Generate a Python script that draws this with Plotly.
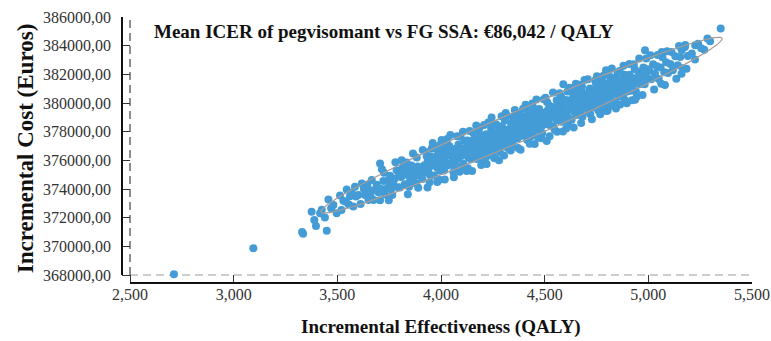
import numpy as np
import plotly.graph_objects as go

# ---------------- data ----------------
effectiveness_core = [
    2712, 3095, 3330, 3335, 3376, 3389, 3397, 3417, 3425, 3449, 3457, 3481, 3497, 3470, 3440,
    3513, 3529, 3545, 3561, 3577, 3585, 3520, 3555, 3590, 3540, 3570,
    3601, 3618, 3634, 3650, 3666, 3682, 3612, 3628, 3645, 3660, 3675, 3690, 3698, 3655,
    3706, 3706, 3722, 3738, 3754, 3770, 3786, 3712, 3730, 3745, 3760, 3778, 3792, 3725, 3765, 3750, 3798,
    3802, 3818, 3834, 3851, 3867, 3883, 3899, 3808, 3815, 3825, 3840, 3846, 3858, 3862, 3872, 3880, 3888, 3894, 3830, 3855,
    3915, 3931, 3947, 3963, 3979, 3995, 3905, 3910, 3920, 3925, 3936, 3940, 3945, 3952, 3958, 3966, 3970, 3975, 3984, 3988, 3992, 3998, 3928, 3955,
    4011, 4027, 4044, 4060, 4076, 4092, 4005, 4008, 4015, 4020, 4024, 4032, 4036, 4040, 4048, 4052, 4056, 4064, 4068, 4072, 4080, 4084, 4088, 4095, 4098, 4030,
    4108, 4124, 4104, 4112, 4116, 4120, 4128, 4132, 4136, 4140, 4144, 4148, 4152, 4156, 4160, 4164, 4168, 4172, 4176, 4180, 4184, 4188, 4192, 4196, 4199, 4138,
    4202, 4206, 4210, 4214, 4218, 4222, 4226, 4230, 4234, 4238, 4242, 4246, 4250, 4254, 4258, 4262, 4266, 4270, 4274, 4278, 4282, 4286, 4290, 4294, 4298, 4228, 4262,
    4302, 4306, 4310, 4314, 4318, 4322, 4326, 4330, 4334, 4338, 4342, 4346, 4350, 4354, 4358, 4362, 4366, 4370, 4374, 4378, 4382, 4386, 4390, 4394, 4398, 4320, 4372, 4345,
    4402, 4406, 4410, 4414, 4418, 4422, 4426, 4430, 4434, 4438, 4442, 4446, 4450, 4454, 4458, 4462, 4466, 4470, 4474, 4478, 4482, 4486, 4490, 4494, 4498, 4440, 4468, 4420,
    4510, 4590, 4502, 4506, 4514, 4518, 4522, 4526, 4530, 4534, 4538, 4542, 4546, 4550, 4554, 4558, 4562, 4566, 4570, 4574, 4578, 4582, 4586, 4594, 4598,
    4602, 4606, 4610, 4614, 4618, 4622, 4626, 4630, 4634, 4638, 4642, 4646, 4650, 4654, 4658, 4662, 4666, 4670, 4674, 4678, 4682, 4686, 4690, 4694, 4698, 4650,
    4702, 4706, 4710, 4714, 4718, 4722, 4726, 4730, 4734, 4738, 4742, 4746, 4750, 4754, 4758, 4762, 4766, 4770, 4774, 4778, 4782, 4786, 4790, 4794, 4798,
    4802, 4806, 4810, 4814, 4818, 4822, 4826, 4830, 4834, 4838, 4842, 4846, 4850, 4854, 4858, 4862, 4866, 4870, 4874, 4878, 4882, 4886, 4890, 4894, 4898,
    4904, 4910, 4916, 4922, 4928, 4934, 4940, 4946, 4952, 4958, 4964, 4970, 4976, 4982, 4988, 4994, 4998, 4930, 4921, 4944, 4984,
    5005, 5014, 5023, 5032, 5041, 5050, 5059, 5068, 5077, 5086, 5095, 5045, 5080, 5065,
    5106, 5118, 5130, 5142, 5154, 5166, 5178, 5190, 5135, 5161, 5177,
    5210, 5225, 5240, 5255, 5270, 5285, 5226, 5298, 5349,
]
cost_core = [
    368050, 369870, 371000, 370880, 372410, 371830, 371420, 372300, 372560, 371090, 373270, 372880, 372300, 372650, 372020,
    373545, 373172, 373959, 373486, 372783, 374162, 372537, 372920, 373472, 373109, 373741,
    373590, 374382, 373579, 373227, 374624, 373951, 372946, 373993, 374306, 373587, 373228, 374299, 373768, 373927,
    375780, 373216, 374564, 374011, 374928, 374325, 375302, 374003, 373612, 374593, 374024, 374733, 374118, 375132, 373575, 374434, 375055,
    374099, 374996, 375843, 374597, 375394, 376191, 374938, 374836, 375478, 374339, 374980, 374166, 375639, 374413, 374924, 374423, 375571, 375158, 375369, 375171,
    375535, 376282, 374979, 375976, 376774, 375271, 375124, 374705, 375665, 375146, 375963, 375387, 374467, 376260, 375696, 374945, 375619, 376249, 375454, 375978, 374652, 376589, 376564, 376828,
    376368, 377215, 375768, 375165, 376812, 377659, 375631, 376150, 375292, 375922, 376697, 375645, 376370, 376994, 376492, 375717, 376191, 376789, 375614, 376388, 376087, 377111, 375535, 376628, 376296, 377483,
    375757, 375254, 376832, 377381, 376405, 376879, 377378, 376202, 376777, 377201, 376075, 376699, 377374, 376948, 377822, 376446, 377121, 376095, 377469, 376844, 377268, 376492, 377716, 377091, 376109, 378039,
    376977, 376501, 377526, 376900, 377824, 376299, 377373, 377047, 377721, 376746, 378220, 377344, 376619, 377643, 377967, 377141, 378516, 377440, 376864, 377738, 378163, 377337, 377711, 378386, 377060, 378635, 376141,
    377284, 377808, 377033, 377557, 378131, 376856, 377480, 378054, 377378, 378553, 377827, 377251, 378026, 378450, 377674, 378898, 378223, 377547, 378421, 378045, 378820, 378194, 377718, 378593, 379067, 379093, 376859, 379045,
    378191, 378665, 377840, 378464, 379088, 378063, 378737, 378311, 377685, 379110, 378484, 377908, 378783, 379307, 378331, 378705, 379030, 378154, 379578, 378702, 379127, 378401, 379325, 378650, 378974, 379972, 377592, 379450,
    377347, 381300, 379048, 378522, 379471, 378845, 379820, 378444, 379318, 379042, 379717, 378341, 379215, 379640, 378864, 380188, 379462, 378787, 379711, 379135, 380059, 378684, 379558, 379157, 380031,
    380205, 379379, 380804, 378978, 379902, 379577, 380201, 378825, 379849, 380574, 379398, 380172, 379697, 379171, 380445, 379669, 380094, 380868, 379492, 380316, 379041, 380015, 380689, 379714, 380338, 381347,
    379862, 380586, 379411, 380335, 381009, 379934, 380608, 380182, 379706, 380931, 380405, 381429, 380004, 380728, 379502, 381176, 380351, 380775, 379999, 381473, 380548, 381072, 380196, 380821, 379445,
    380919, 380293, 381418, 380692, 381816, 380191, 381165, 380689, 381463, 380088, 381112, 381786, 380661, 381385, 380459, 382233, 381158, 380832, 381656, 380430, 381455, 381979, 381103, 381678, 380802,
    381288, 381975, 380861, 381748, 381284, 382370, 380807, 381743, 382180, 381316, 382052, 381639, 382475, 381312, 382048, 381735, 382359, 382696, 380200, 380430, 383680,
    382251, 381656, 382711, 382065, 382570, 381675, 382479, 383184, 382138, 382843, 382098, 383344, 381257, 383561,
    382714, 382287, 383260, 382633, 383206, 382429, 384051, 383274, 381690, 383680, 383910,
    383446, 383037, 384128, 383819, 383710, 384495, 384028, 384307, 385192,
]
# points on the outer edge of the band
effectiveness_edge = [
    3715, 3748, 3780,
    3810, 3840, 3865, 3890,
    3912, 3935, 3960, 3982, 3995,
    4003, 4018, 4045, 4062, 4078, 4090, 4012, 4066,
    4106, 4130, 4150, 4170, 4186, 4194, 4110, 4158, 4182,
    4208, 4220, 4244, 4256, 4280, 4292, 4212, 4248, 4284,
    4304, 4312, 4336, 4356, 4384, 4396, 4308, 4340, 4376,
    4408, 4428, 4452, 4460, 4484, 4496, 4416, 4444, 4488,
    4504, 4524, 4540, 4560, 4572, 4588, 4512, 4548, 4580,
    4604, 4620, 4640, 4664, 4676, 4692, 4612, 4644, 4680,
    4708, 4728, 4752, 4768, 4784, 4796, 4720, 4744, 4788,
    4804, 4824, 4844, 4864, 4880, 4896, 4816, 4852, 4888,
    4908, 4936, 4956, 4972, 4990,
    5010, 5028, 5062, 5090,
    5112, 5148, 5160, 5184,
]
cost_edge = [
    375371, 373221, 375866,
    375998, 373630, 376482, 374083,
    376717, 374106, 377208, 374492, 377071,
    377419, 374660, 377774, 374827, 377674, 375197, 376874, 375302,
    377994, 375440, 375262, 378433, 378280, 375679, 375569, 377910, 378006,
    378464, 375736, 378982, 376155, 376001, 379073, 376088, 378506, 376575,
    376346, 379295, 376691, 379512, 376732, 379605, 378771, 376915, 379283,
    379878, 377149, 377145, 380243, 377539, 380262, 377426, 379696, 377913,
    380360, 377682, 380729, 378000, 380673, 378020, 380059, 378127, 380422,
    378217, 381064, 378286, 381281, 378604, 381601, 378516, 380860, 381129,
    381649, 378870, 381866, 379213, 381910, 382283, 379221, 381567, 379684,
    379481, 382403, 379624, 379895, 382593, 379990, 379804, 382123, 380191,
    382713, 380233, 383104, 380551, 383110,
    383332, 380941, 381347, 383617,
    383551, 383969, 382042, 382388,
]
effectiveness = effectiveness_core + effectiveness_edge
cost = cost_core + cost_edge

x_tick_vals = [2500, 3000, 3500, 4000, 4500, 5000, 5500]
x_tick_text = ["2,500", "3,000", "3,500", "4,000", "4,500", "5,000", "5,500"]
y_tick_vals = [368000, 370000, 372000, 374000, 376000, 378000, 380000, 382000, 384000, 386000]
y_tick_text = ["368000,00", "370000,00", "372000,00", "374000,00", "376000,00",
               "378000,00", "380000,00", "382000,00", "384000,00", "386000,00"]

x_title = "Incremental Effectiveness (QALY)"
y_title = "Incremental Cost (Euros)"
icer_note = "Mean ICER of pegvisomant vs FG SSA: €86,042 / QALY"

# confidence ellipse parameters (centre, semi-axis vectors in data units)
ell_center = (4388.5, 378453)
ell_major = (967.5, 6063)
ell_minor = (28.8, -960)

# ---------------- figure ----------------
X_MIN, X_MAX = 2500, 5500
Y_MIN, Y_MAX = 368000, 386000
x_lo = X_MIN - 38.6
y_lo = Y_MIN - 557.5

SERIF = "Liberation Serif, Times New Roman, serif"
DOT = "#449cd7"

t = np.linspace(0, 2 * np.pi, 241)
ell_x = ell_center[0] + np.cos(t) * ell_major[0] + np.sin(t) * ell_minor[0]
ell_y = ell_center[1] + np.cos(t) * ell_major[1] + np.sin(t) * ell_minor[1]

fig = go.Figure()
fig.add_trace(go.Scatter(
    x=effectiveness, y=cost, mode="markers",
    marker=dict(size=8, color=DOT, line=dict(width=0)),
    showlegend=False, hoverinfo="x+y",
))
fig.add_trace(go.Scatter(
    x=ell_x, y=ell_y, mode="lines",
    line=dict(color="#a59d97", width=1.2),
    showlegend=False, hoverinfo="skip",
))

# dashed reference lines
fig.add_shape(type="line", xref="x", yref="y", x0=X_MIN, x1=X_MAX, y0=Y_MIN, y1=Y_MIN,
              line=dict(color="#bdbdbd", width=1.5, dash="8px,5px"), layer="below")
fig.add_shape(type="line", xref="x", yref="y", x0=X_MIN, x1=X_MIN, y0=Y_MIN, y1=Y_MAX,
              line=dict(color="#6a6a6a", width=1.5, dash="8px,5px"), layer="below")
# offset axis lines
fig.add_shape(type="line", xref="x", yref="paper", x0=X_MIN, x1=X_MAX, y0=0, y1=0,
              line=dict(color="#111111", width=2))
fig.add_shape(type="line", xref="paper", yref="y", x0=0, x1=0, y0=Y_MIN, y1=Y_MAX,
              line=dict(color="#111111", width=2))

fig.add_annotation(
    text=f"<b>{icer_note}</b>", xref="paper", yref="paper",
    x=0.048, y=0.945, xanchor="left", yanchor="middle", showarrow=False,
    font=dict(family=SERIF, size=19, color="#111111"),
)
# axis titles
fig.add_annotation(
    text=f"<b>{x_title}</b>", xref="paper", yref="paper",
    x=0.506, y=-0.165, xanchor="center", yanchor="middle", showarrow=False,
    font=dict(family=SERIF, size=19, color="#111111"),
)
fig.add_annotation(
    text=f"<b>{y_title}</b>", xref="paper", yref="paper", textangle=-90,
    x=-0.153, y=0.505, xanchor="center", yanchor="middle", showarrow=False,
    font=dict(family=SERIF, size=23, color="#111111"),
)

fig.update_layout(
    width=771, height=341,
    margin=dict(l=122, r=19, t=17, b=58, autoexpand=False),
    paper_bgcolor="white", plot_bgcolor="white",
    font=dict(family=SERIF, color="#222222"),
    xaxis=dict(
        range=[x_lo, X_MAX], tickvals=x_tick_vals, ticktext=x_tick_text,
        ticks="inside", ticklen=8, tickwidth=1, tickcolor="#333333",
        showgrid=False, zeroline=False, showline=False, automargin=False,
        tickfont=dict(family=SERIF, size=16, color="#333333"),
    ),
    yaxis=dict(
        range=[y_lo, Y_MAX], tickvals=y_tick_vals, ticktext=y_tick_text,
        ticks="inside", ticklen=8, tickwidth=1, tickcolor="#333333",
        ticklabelstandoff=10, automargin=False,
        showgrid=False, zeroline=False, showline=False,
        tickfont=dict(family=SERIF, size=16, color="#333333"),
    ),
)

fig.write_html("out.html")
